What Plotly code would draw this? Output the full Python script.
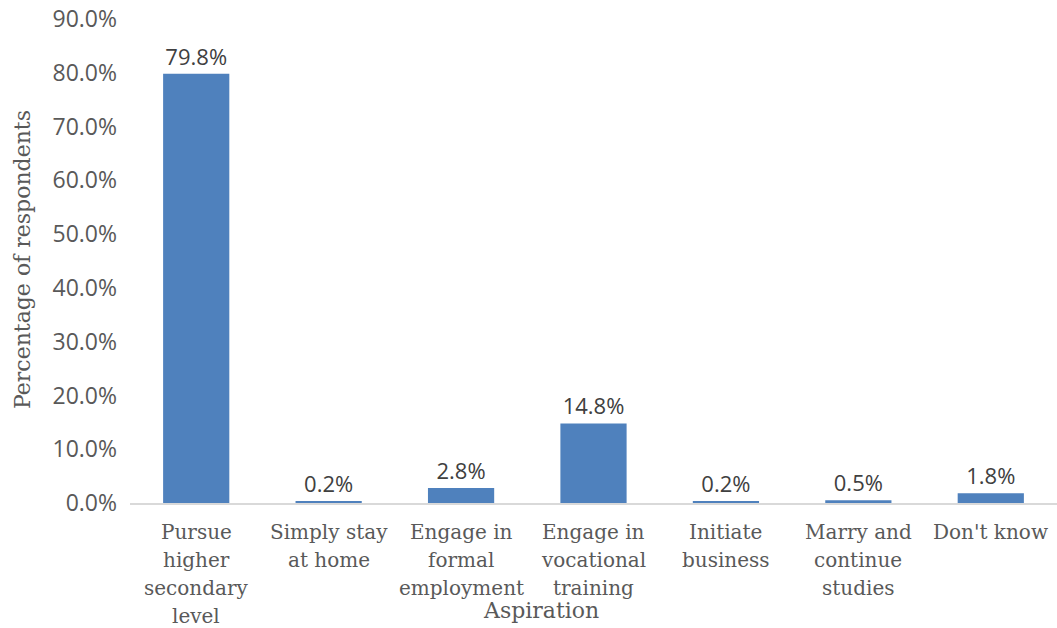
import plotly.graph_objects as go

categories = [
    "Pursue higher secondary level",
    "Simply stay at home",
    "Engage in formal employment",
    "Engage in vocational training",
    "Initiate business",
    "Marry and continue studies",
    "Don't know",
]
label_lines = [
    ["Pursue", "higher", "secondary", "level"],
    ["Simply stay", "at home"],
    ["Engage in", "formal", "employment"],
    ["Engage in", "vocational", "training"],
    ["Initiate", "business"],
    ["Marry and", "continue", "studies"],
    ["Don't know"],
]
values = [79.8, 0.2, 2.8, 14.8, 0.2, 0.5, 1.8]
y_ticks = [0, 10, 20, 30, 40, 50, 60, 70, 80, 90]

SANS = "Open Sans, Noto Sans, sans-serif"
SERIF = "DejaVu Serif, serif"
GRAY = "#595959"

fig = go.Figure()
fig.add_trace(go.Bar(
    x=categories,
    y=values,
    marker=dict(color="#4F81BD", line=dict(width=0)),
    text=[f"{v:.1f}%" for v in values],
    textposition="outside",
    textfont=dict(family=SANS, size=22, color="#404040"),
    cliponaxis=False,
    hoverinfo="skip",
))

# multi-line category labels, one annotation per line for tighter leading
annotations = []
for cat, lines in zip(categories, label_lines):
    for i, line in enumerate(lines):
        annotations.append(dict(
            x=cat, xref="x", y=0, yref="paper",
            text=line, showarrow=False,
            xanchor="center", yanchor="middle",
            yshift=-(29 + 28 * i),
            font=dict(family=SERIF, size=20, color=GRAY),
        ))

annotations.append(dict(
    x=0.443, xref="paper", y=-0.222, yref="paper",
    text="Aspiration", showarrow=False,
    xanchor="center", yanchor="middle",
    font=dict(family=SERIF, size=22, color=GRAY),
))
annotations.append(dict(
    x=-0.1165, xref="paper", y=0.502, yref="paper",
    text="Percentage of respondents", showarrow=False, textangle=-90,
    xanchor="center", yanchor="middle",
    font=dict(family=SERIF, size=22, color=GRAY),
))

fig.update_layout(
    width=1057, height=628,
    margin=dict(l=130, r=0, t=19, b=125),
    paper_bgcolor="white", plot_bgcolor="white",
    bargap=0.5,
    showlegend=False,
    annotations=annotations,
    xaxis=dict(
        showticklabels=False, showgrid=False, zeroline=False,
        showline=True, linecolor="#D9D9D9", linewidth=1.5, ticks="",
    ),
    yaxis=dict(
        range=[0, 90], tickvals=y_ticks,
        ticktext=[f"{t:.1f}%" for t in y_ticks],
        tickfont=dict(family=SANS, size=23, color=GRAY),
        showgrid=False, zeroline=False, showline=False, ticks="",
        ticklabelstandoff=12,
    ),
)

fig.write_html("out.html")
